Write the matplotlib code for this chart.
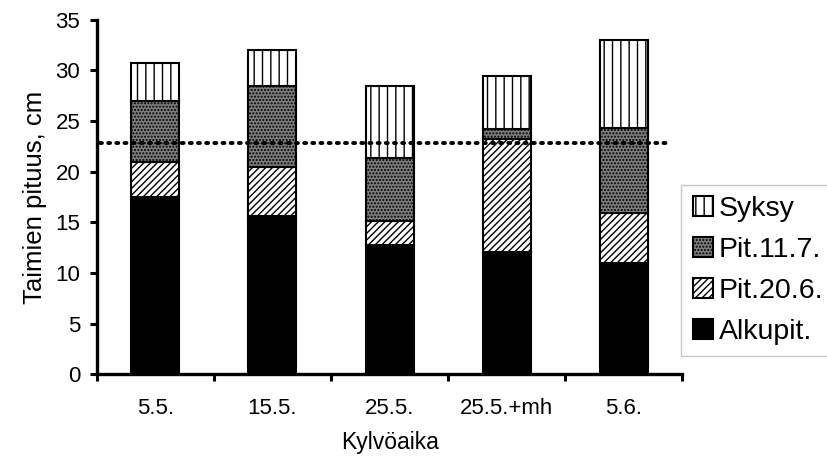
import numpy as np
import matplotlib
matplotlib.use("Agg")
import matplotlib.pyplot as plt

plt.rcParams['font.family'] = ['Liberation Sans', 'DejaVu Sans']
plt.rcParams['hatch.linewidth'] = 1.0

# data (segment heights, cm)
categories = ['5.5.', '15.5.', '25.5.', '25.5.+mh', '5.6.']
alkupit = [17.5, 15.6, 12.8, 12.1, 11.0]
pit_20_6 = [3.5, 4.9, 2.3, 11.1, 4.9]
pit_11_7 = [6.0, 8.0, 6.3, 1.0, 8.4]
syksy = [3.7, 3.55, 7.1, 5.3, 8.7]
ref_level = 22.8

x = np.arange(len(categories))
w = 0.41

fig = plt.figure(figsize=(8.28, 4.62), dpi=100)
ax = fig.add_axes([0.117, 0.19, 0.707, 0.767])

b0 = np.zeros(len(x))
h1 = ax.bar(x, alkupit, w, bottom=b0, color='black', edgecolor='black', lw=1.5)
b1 = b0 + np.array(alkupit)
h2 = ax.bar(x, pit_20_6, w, bottom=b1, color='white', edgecolor='black', lw=1.5, hatch='/////')
b2 = b1 + np.array(pit_20_6)
h3 = ax.bar(x, pit_11_7, w, bottom=b2, color='#7e7e7e', edgecolor='black', lw=1.5, hatch='.....')
b3 = b2 + np.array(pit_11_7)
h4 = ax.bar(x, syksy, w, bottom=b3, color='white', edgecolor='black', lw=1.5, hatch='||')

# dotted reference line
ax.plot([-0.47, 4.38], [ref_level, ref_level], color='black', lw=2.8,
        linestyle=(0, (0.5, 1.6)), dash_capstyle='round')

ax.set_xlim(-0.5, 4.5)
ax.set_ylim(0, 35)
ax.set_yticks(range(0, 36, 5))

ax.set_xticks(np.arange(-0.5, 5, 1))
ax.set_xticklabels([])
ax.set_xticks(x, minor=True)
ax.set_xticklabels(categories, minor=True)
ax.tick_params(axis='x', which='minor', length=0, pad=17, labelsize=16)
ax.tick_params(axis='x', which='major', length=5, width=2.2, direction='out')
ax.tick_params(axis='y', length=5, width=2.2, direction='out', labelsize=16, pad=7)

for s in ['top', 'right']:
    ax.spines[s].set_visible(False)
for s in ['left', 'bottom']:
    ax.spines[s].set_linewidth(2.4)

ax.set_ylabel('Taimien pituus, cm', fontsize=18.5, labelpad=6)
ax.set_xlabel('Kylvöaika', fontsize=16.5, labelpad=9)

leg = fig.legend([h4, h3, h2, h1], ['Syksy', 'Pit.11.7.', 'Pit.20.6.', 'Alkupit.'],
                 loc='upper left', bbox_to_anchor=(0.823, 0.6),
                 fontsize=20.5, frameon=True, fancybox=False,
                 handlelength=0.7, handleheight=0.7, handletextpad=0.2,
                 labelspacing=0.52, borderpad=0.4, borderaxespad=0)
leg.get_frame().set_edgecolor('#bbbbbb')
leg.get_frame().set_linewidth(1.0)

fig.savefig('out.png', dpi=100)
